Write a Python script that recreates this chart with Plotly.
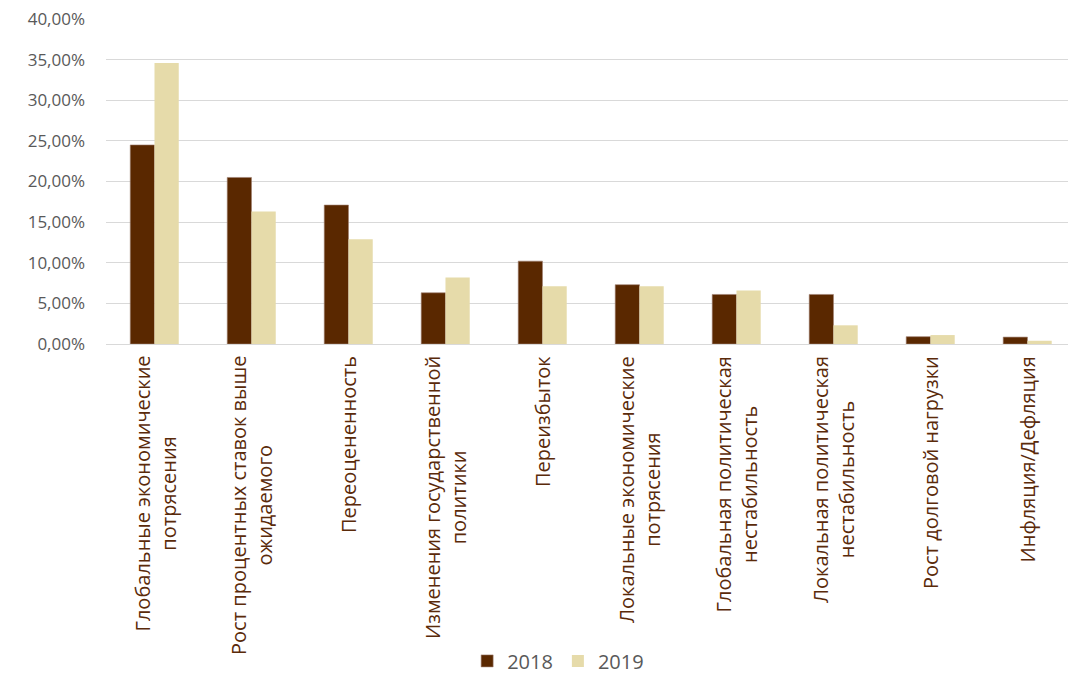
import plotly.graph_objects as go

categories = [
    "Глобальные экономические<br>потрясения",
    "Рост процентных ставок выше<br>ожидаемого",
    "Переоцененность",
    "Изменения государственной<br>политики",
    "Переизбыток",
    "Локальные экономические<br>потрясения",
    "Глобальная политическая<br>нестабильность",
    "Локальная политическая<br>нестабильность",
    "Рост долговой нагрузки",
    "Инфляция/Дефляция",
]
values_2018 = [0.245, 0.205, 0.171, 0.063, 0.102, 0.073, 0.061, 0.061, 0.009, 0.0085]
values_2019 = [0.346, 0.163, 0.129, 0.082, 0.071, 0.071, 0.066, 0.023, 0.011, 0.004]
y_ticks = [0, 0.05, 0.10, 0.15, 0.20, 0.25, 0.30, 0.35, 0.40]

font_family = "Open Sans, sans-serif"
text_color = "#595959"
label_color = "#5a2a0a"

fig = go.Figure()
fig.add_trace(go.Bar(x=categories, y=values_2018, name="2018",
                     marker=dict(color="#5a2800", line=dict(color="#a08070", width=0.6))))
fig.add_trace(go.Bar(x=categories, y=values_2019, name="2019",
                     marker=dict(color="#e6dbaa", line=dict(width=0))))

# Category labels: rotated, with lines centred on each other
for cat in categories:
    fig.add_annotation(x=cat, xref="x", y=0, yref="paper", yanchor="top", xanchor="center",
                       yshift=-10, text=cat, textangle=-90, align="center", showarrow=False,
                       font=dict(family=font_family, size=20, color=label_color))

fig.update_layout(
    width=1068, height=677,
    margin=dict(l=106, r=0, t=19, b=333, autoexpand=False),
    paper_bgcolor="white", plot_bgcolor="white",
    barmode="group", bargap=0.5, bargroupgap=0,
    separators=", ",
    font=dict(family=font_family, size=17, color=text_color),
    showlegend=True,
    legend=dict(orientation="h", x=0.47, xanchor="center", y=-0.975, yanchor="middle",
                font=dict(size=20, color=text_color), itemwidth=30, traceorder="normal"),
    xaxis=dict(showticklabels=False, automargin=False, showgrid=False, showline=True,
               range=[-0.5, 9.418], linecolor="#d9d9d9", linewidth=1, ticks=""),
    yaxis=dict(range=[0, 0.40], tickvals=y_ticks, tickformat=".2%", showgrid=True,
               automargin=False, gridcolor="#d9d9d9", gridwidth=1, zeroline=False,
               showline=False, ticks="", ticklabelstandoff=20,
               tickfont=dict(size=17, color=text_color)),
)

fig.write_html("out.html")
